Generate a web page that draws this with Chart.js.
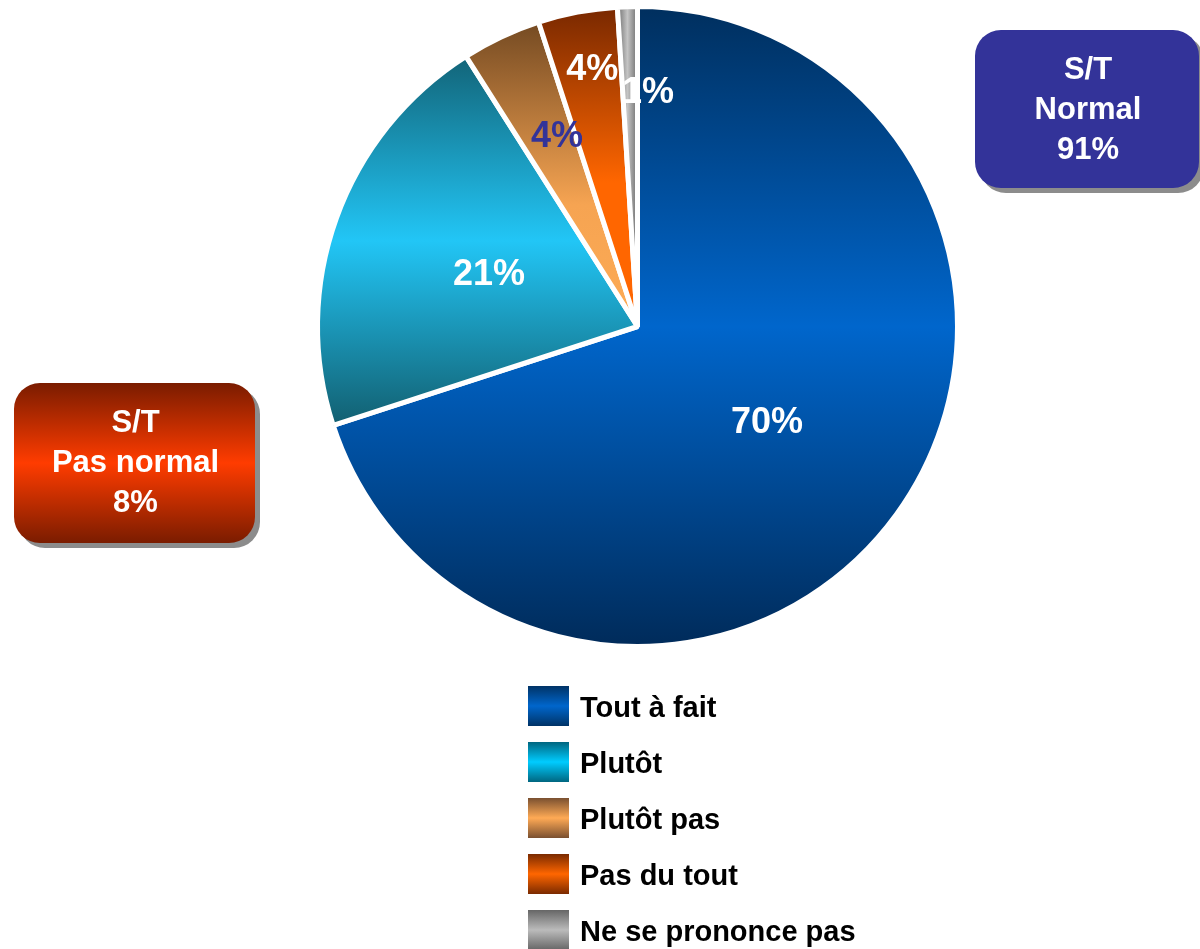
<!DOCTYPE html>
<html>
<head>
<meta charset="utf-8">
<script src="https://cdn.jsdelivr.net/npm/chart.js@4"></script>
<style>
  html, body { margin: 0; padding: 0; background: #fff; }
  #wrap { width: 1200px; height: 949px; position: relative; }
</style>
</head>
<body>
<div id="wrap"><canvas id="pieChart"></canvas></div>
<script>
// Data
const categories = ['Tout à fait', 'Plutôt', 'Plutôt pas', 'Pas du tout', 'Ne se prononce pas'];
const shares = [70, 21, 4, 4, 1];
const groupLabels = ['S/T\nNormal\n91%', 'S/T\nPas normal\n8%'];

// Styling
const font = "'Liberation Sans', Arial, sans-serif";
const sliceStops = [
    [[0, '#002f5e'], [0.5, '#0066cc'], [1, '#002b5a']],
    [[0, '#126478'], [0.5, '#22c6f6'], [1, '#125f70']],
    [[0, '#744a22'], [0.6, '#f6a452'], [1, '#fdab55']],
    [[0, '#782800'], [0.55, '#ff6600'], [1, '#ff6600']],
    [[0, '#6e6e6e'], [0.5, '#c4c4c4'], [1, '#6e6e6e']]
];
const legendStops = [
    ['#003366', '#0066cc', '#003366'],
    ['#006680', '#00ccff', '#006680'],
    ['#7a5030', '#ffaa55', '#7a5030'],
    ['#7a2a00', '#ff6600', '#7a2a00'],
    ['#666666', '#bbbbbb', '#666666']
];
const labelColors = ['#ffffff', '#ffffff', '#333399', '#ffffff', '#ffffff'];
const labelRadius = [0.5, 0.5, 0.65, 0.82, 0.74];
const labelShift = [[0, 3], [2, 3], [8, -1], [4, 1], [18, 3]];

// gradient per slice, over the slice's own bounding box
const sliceGradients = {
    id: 'sliceGradients',
    beforeDatasetsDraw(chart) {
        const ctx = chart.ctx;
        chart.getDatasetMeta(0).data.forEach((arc, i) => {
            const p = arc.getProps(['x', 'y', 'startAngle', 'endAngle', 'outerRadius']);
            let minX = p.x, maxX = p.x, minY = p.y, maxY = p.y;
            for (let k = 0; k <= 60; k++) {
                const a = p.startAngle + (p.endAngle - p.startAngle) * k / 60;
                const px = p.x + Math.cos(a) * p.outerRadius;
                const py = p.y + Math.sin(a) * p.outerRadius;
                minX = Math.min(minX, px); maxX = Math.max(maxX, px);
                minY = Math.min(minY, py); maxY = Math.max(maxY, py);
            }
            const g = i === 4
                ? ctx.createLinearGradient(minX, 0, maxX, 0)
                : ctx.createLinearGradient(0, minY, 0, maxY);
            sliceStops[i].forEach(s => g.addColorStop(s[0], s[1]));
            arc.options.backgroundColor = g;
        });
    }
};

function roundRect(ctx, x, y, w, h, r) {
    ctx.beginPath();
    ctx.moveTo(x + r, y);
    ctx.arcTo(x + w, y, x + w, y + h, r);
    ctx.arcTo(x + w, y + h, x, y + h, r);
    ctx.arcTo(x, y + h, x, y, r);
    ctx.arcTo(x, y, x + w, y, r);
    ctx.closePath();
}

const decorations = {
    id: 'decorations',
    afterDatasetsDraw(chart) {
        const ctx = chart.ctx;
        ctx.save();
        ctx.textAlign = 'center';
        ctx.textBaseline = 'middle';

        // percentage labels
        ctx.font = 'bold 36px ' + font;
        chart.getDatasetMeta(0).data.forEach((arc, i) => {
            const p = arc.getProps(['x', 'y', 'startAngle', 'endAngle', 'outerRadius']);
            const mid = (p.startAngle + p.endAngle) / 2;
            const r = p.outerRadius * labelRadius[i];
            ctx.fillStyle = labelColors[i];
            ctx.fillText(shares[i] + '%',
                p.x + Math.cos(mid) * r + labelShift[i][0],
                p.y + Math.sin(mid) * r + labelShift[i][1]);
        });

        // group boxes
        const boxes = [
            { x: 975, y: 30, w: 224, h: 158, fill: '#333399' },
            { x: 14, y: 383, w: 241, h: 160, fill: null }
        ];
        boxes.forEach((b, i) => {
            ctx.fillStyle = '#8c8c8c';
            roundRect(ctx, b.x + 5, b.y + 5, b.w, b.h, 26);
            ctx.fill();
            let fill = b.fill;
            if (!fill) {
                fill = ctx.createLinearGradient(0, b.y, 0, b.y + b.h);
                fill.addColorStop(0, '#7a1c00');
                fill.addColorStop(0.5, '#ff3c00');
                fill.addColorStop(1, '#7a1c00');
            }
            ctx.fillStyle = fill;
            roundRect(ctx, b.x, b.y, b.w, b.h, 26);
            ctx.fill();
            ctx.fillStyle = '#ffffff';
            ctx.font = 'bold 31px ' + font;
            const lines = groupLabels[i].split('\n');
            lines.forEach((t, k) => {
                ctx.fillText(t, b.x + b.w / 2 + 1, b.y + 40 + k * 40);
            });
        });

        // legend
        ctx.textAlign = 'left';
        ctx.font = 'bold 29px ' + font;
        categories.forEach((c, i) => {
            const y = 686 + i * 56;
            const g = ctx.createLinearGradient(0, y, 0, y + 40);
            g.addColorStop(0, legendStops[i][0]);
            g.addColorStop(0.5, legendStops[i][1]);
            g.addColorStop(1, legendStops[i][2]);
            ctx.fillStyle = g;
            ctx.fillRect(528, y, 41, 40);
            ctx.fillStyle = '#000000';
            ctx.fillText(c, 580, y + 23);
        });
        ctx.restore();
    }
};

new Chart(document.getElementById('pieChart'), {
    type: 'pie',
    data: {
        labels: categories,
        datasets: [{
            data: shares,
            backgroundColor: sliceStops.map(s => s[1][1]),
            borderColor: '#ffffff',
            borderWidth: 5,
            hoverOffset: 0
        }]
    },
    options: {
        responsive: true,
        maintainAspectRatio: false,
        animation: false,
        layout: { padding: { left: 315, top: 4, right: 240, bottom: 300 } },
        plugins: {
            legend: { display: false },
            tooltip: { enabled: false }
        }
    },
    plugins: [sliceGradients, decorations]
});
</script>
</body>
</html>
